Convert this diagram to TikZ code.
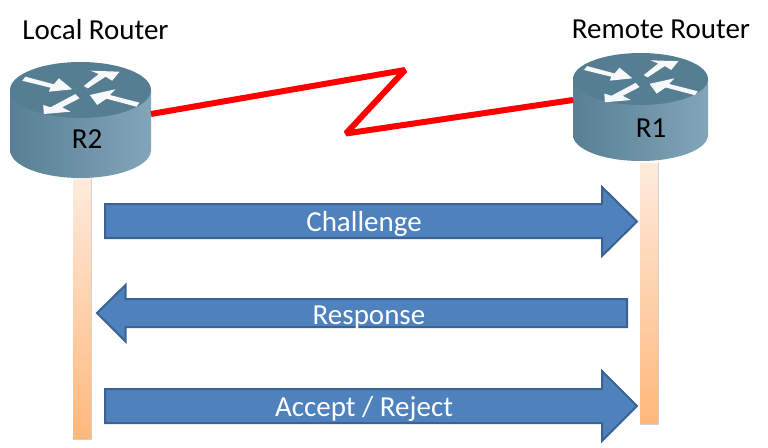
\documentclass[tikz,border=0pt]{standalone}
\usepackage{fontspec}
\setmainfont{Carlito}
\usetikzlibrary{shadings}
\definecolor{blockfill}{HTML}{4F81BD}
\definecolor{blockline}{HTML}{3A6292}
\definecolor{routertop}{HTML}{557E92}
\definecolor{routerl}{HTML}{587F93}
\definecolor{routerr}{HTML}{82A5B9}
\definecolor{columntop}{HTML}{FEEBDD}
\definecolor{columnbot}{HTML}{FFB87C}
\tikzset{
  x=1pt,y=-1pt,
  blockarrow/.style={fill=blockfill,draw=blockline,line width=2pt,line join=miter},
  columnbar/.style={top color=columntop,bottom color=columnbot,draw=none,minimum width=18pt,minimum height=260pt,inner sep=0pt},
  columnshade/.style={fill=black!18,draw=none,minimum width=19pt,minimum height=262pt,inner sep=0pt},
  redlink/.style={draw=red,line width=6pt,line join=bevel},
  glyph/.style={fill=white,draw=none,opacity=0.95},
  lbl/.style={inner sep=0pt,font=\fontsize{29pt}{32pt}\selectfont,text=black},
  arrowlbl/.style={inner sep=0pt,font=\fontsize{29pt}{32pt}\selectfont,text=white},
  routerlbl/.style={inner sep=0pt,font=\fontsize{29pt}{32pt}\selectfont,text=black},
  pics/routerbox/.style args={#1/#2/#3/#4}{code={
    \path[left color=routerl,right color=routerr]
      (-#1,0) -- (-#1,#3) arc[start angle=180,end angle=0,x radius=#1,y radius=#2]
      -- (#1,0) -- cycle;
    \fill[routertop] (0,0) ellipse[x radius=#1,y radius=#2];
    \begin{scope}[scale=#4]
      \fill[glyph] (-58.3,-9.3) -- (-55,-13.3) -- (-26.7,-5.7) -- (-21.7,-11.7) -- (-8.3,-0.7) -- (-31.7,1.7) -- (-30,-2.3) -- cycle;
      \fill[glyph] (3.3,-4) -- (7.3,-1.7) -- (25,-13.3) -- (31.7,-9.3) -- (39,-18.3) -- (10,-19.3) -- (18.3,-16) -- cycle;
      \fill[glyph] (-5,4) -- (-1,8.3) -- (-18.3,17.3) -- (-10,21.7) -- (-36.7,24) -- (-37.3,15) -- (-30,17.3) -- cycle;
      \fill[glyph] (9.3,5) -- (35,-0.7) -- (29.3,5) -- (59,12.7) -- (56,16.7) -- (26,8.7) -- (16.7,15) -- cycle;
    \end{scope}
  }}
}
\begin{document}
\begin{tikzpicture}
\useasboundingbox (0,0) rectangle (768,447);
% columns
\node[columnshade] (leftshade) at (82,309) {};
\node[columnshade] (rightshade) at (649,294) {};
\node[columnbar] (leftbar) at (82,308) {};
\node[columnbar] (rightbar) at (649,293) {};
% routers
\pic at (80.5,90) {routerbox={70.5/28/60/1}};
\pic at (640.5,79) {routerbox={67.5/26/56/0.97}};
\coordinate (linkA) at (151,114);
\coordinate (linkB) at (405,70);
\coordinate (linkC) at (346,133.5);
\coordinate (linkD) at (573,100);
\draw[redlink] (linkA) -- (linkB) -- (linkC) -- (linkD);
\node[routerlbl] (r2) at (87,139.5) {R2};
\node[routerlbl] (r1) at (651,128) {R1};
\node[lbl] (local) at (95.5,29.5) {Local Router};
\node[lbl] (remote) at (661,29.5) {Remote Router};
% block arrows
\draw[blockarrow] (105,204) -- (602,204) -- (602,187) -- (637,221.5) -- (602,256) -- (602,238) -- (105,238) -- cycle;
\draw[blockarrow] (627,299) -- (125.5,299) -- (125.5,285) -- (97,313) -- (125.5,341.5) -- (125.5,327) -- (627,327) -- cycle;
\draw[blockarrow] (105,389) -- (602,389) -- (602,371) -- (637,406) -- (602,441) -- (602,423) -- (105,423) -- cycle;
\node[arrowlbl] (challenge) at (364,223.5) {Challenge};
\node[arrowlbl] (response) at (369,317.5) {Response};
\node[arrowlbl] (accept) at (364,408.5) {Accept / Reject};
\end{tikzpicture}
\end{document}
